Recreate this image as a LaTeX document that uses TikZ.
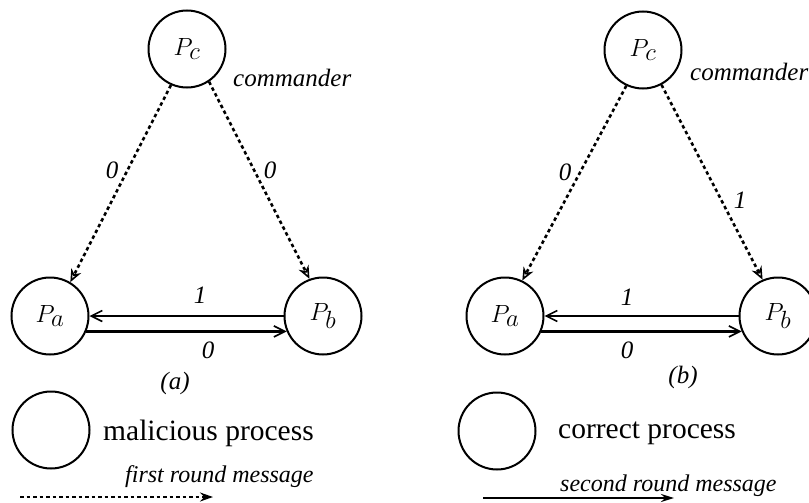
\documentclass[tikz,border=0pt]{standalone}
\usepackage{fontspec}
\setmainfont{Liberation Serif}
\usetikzlibrary{arrows.meta}
\begin{document}
\begin{tikzpicture}[x=1pt,y=-1pt,
  proc/.style={circle,draw,line width=2pt,minimum size=77pt,inner sep=0pt,font=\fontsize{36}{40}\selectfont},
  lbl/.style={font=\fontsize{25}{28}\selectfont\itshape,inner sep=0pt},
  msgone/.style={line width=2.6pt,dash pattern=on 3.5pt off 3pt,-{Stealth[open,length=13pt,width=11pt,line width=1.6pt]}},
  msgtwo/.style={line width=2.2pt,-{Straight Barb[length=11pt,width=11pt,line width=1.6pt]}},
  legtxt/.style={font=\fontsize{29.5}{32}\selectfont,anchor=west,inner sep=0pt},
  legmsg/.style={font=\fontsize{24}{27}\selectfont\itshape,anchor=west,inner sep=0pt}]
\useasboundingbox (0,0) rectangle (809,503);
\clip (0,0) rectangle (809,503);
% ---------- (a) ----------
\node[proc] (lc) at (187,49) {$P_c$};
\node[proc] (la) at (50,316) {$P_a$};
\node[proc] (lb) at (323,316) {$P_b$};
\node[lbl,anchor=west] (lcm) at (233,78) {commander};
\draw[msgone] (lc.246) -- (la.59);
\draw[msgone] (lc.304) -- (lb.110);
\draw[msgtwo] (lb.west) -- (la.east);
\draw[msgtwo] (la.-23) -- (lb.-157);
\node[lbl] (la0) at (112,170) {0};
\node[lbl] (lb0) at (270,170) {0};
\node[lbl] (lab) at (200,295) {1};
\node[lbl] (lba) at (208,350) {0};
\node[lbl] (capa) at (175,383) {(a)};
% ---------- (b) ----------
\node[proc] (rc) at (643,50) {$P_c$};
\node[proc] (ra) at (505,316) {$P_a$};
\node[proc] (rb) at (778,316) {$P_b$};
\node[lbl,anchor=west] (rcm) at (690,72) {commander};
\draw[msgone] (rc.245) -- (ra.64);
\draw[msgone] (rc.298) -- (rb.113);
\draw[msgtwo] (rb.west) -- (ra.east);
\draw[msgtwo] (ra.-23) -- (rb.-157);
\node[lbl] (ra0) at (565,172) {0};
\node[lbl] (rb1) at (740,200) {1};
\node[lbl] (rab) at (627,297) {1};
\node[lbl] (rba) at (627,350) {0};
\node[lbl] (capb) at (683,377) {(b)};
% ---------- legend ----------
\node[proc] (legm) at (51,430) {};
\node[legtxt] (legmt) at (103,433) {malicious process};
\node[proc] (legc) at (497,431) {};
\node[legtxt] (legct) at (558,433) {correct process};
\node[legmsg] (leg1t) at (125,477) {first round message};
\coordinate (d1s) at (20,497);
\coordinate (d1e) at (213,497);
\draw[line width=2.6pt,dash pattern=on 3.5pt off 3pt,-{Stealth[length=13pt,width=9pt]}] (d1s) -- (d1e);
\node[legmsg] (leg2t) at (560,486) {second round message};
\coordinate (d2s) at (483,498);
\coordinate (d2e) at (674,498);
\draw[line width=2.2pt,-{Stealth[length=13pt,width=8pt]}] (d2s) -- (d2e);
\end{tikzpicture}
\end{document}
